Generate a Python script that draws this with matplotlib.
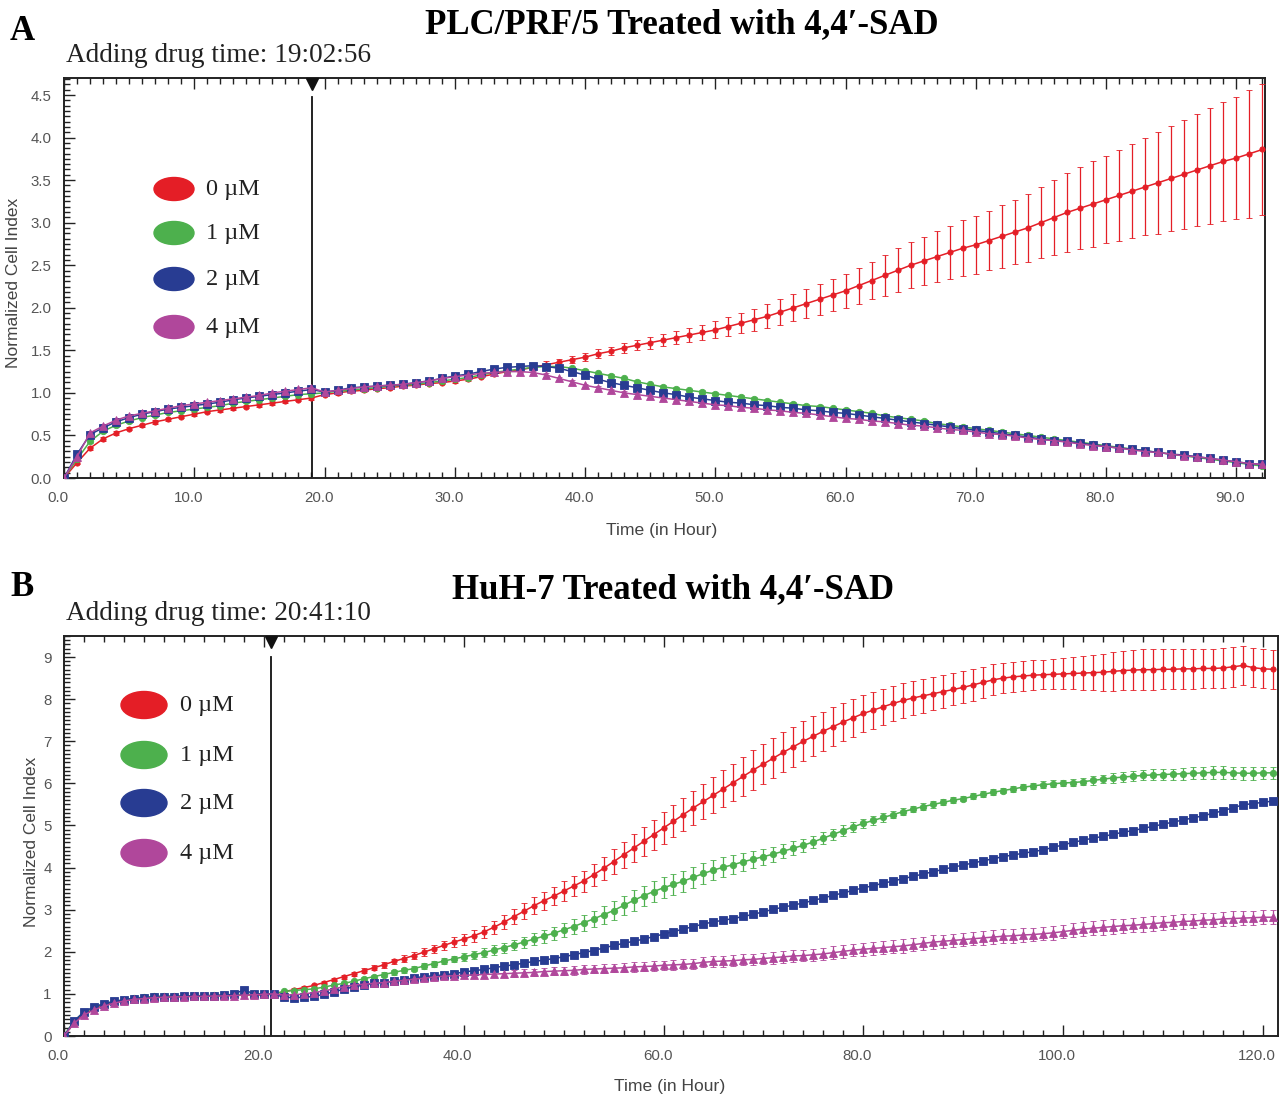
import matplotlib
matplotlib.use("Agg")
import matplotlib.pyplot as plt
from matplotlib.patches import Ellipse
from matplotlib.ticker import MultipleLocator, FormatStrFormatter
from matplotlib.transforms import ScaledTranslation

# ---------------- DATA ----------------
conc_labels = ["0 µM", "1 µM", "2 µM", "4 µM"]
colors = ["#E41E26", "#4DB04D", "#283C92", "#B0479B"]
markers = ["o", "o", "s", "^"]

# Panel A: PLC/PRF/5
title_A = "PLC/PRF/5 Treated with 4,4′-SAD"
drug_label_A = "Adding drug time: 19:02:56"
drug_time_A = 19.05
hours_A = list(range(0, 93))
red_A = ([0.00, 0.18, 0.35, 0.46, 0.53, 0.58, 0.62, 0.66, 0.69, 0.72, 0.75, 0.78, 0.80, 0.82, 0.84, 0.86, 0.88, 0.90, 0.92, 0.94]
         + [0.98, 1.00, 1.02, 1.03, 1.05, 1.06, 1.08, 1.09, 1.11, 1.12, 1.14, 1.16, 1.19, 1.22, 1.25]
         + [1.27, 1.30, 1.33, 1.36, 1.39, 1.42, 1.46, 1.49, 1.53, 1.56,
            1.59, 1.62, 1.65, 1.68, 1.71, 1.74, 1.78, 1.82, 1.86, 1.90,
            1.95, 2.00, 2.05, 2.10, 2.15, 2.20, 2.26, 2.32, 2.38, 2.44,
            2.50, 2.55, 2.60, 2.65, 2.70, 2.74, 2.79, 2.84, 2.89, 2.94,
            3.00, 3.06, 3.12, 3.17, 3.22, 3.27, 3.32, 3.37, 3.42, 3.47,
            3.52, 3.57, 3.62, 3.67, 3.72, 3.76, 3.81, 3.86])
green_A = ([0.00, 0.22, 0.43, 0.55, 0.62, 0.67, 0.71, 0.74, 0.77, 0.79, 0.81, 0.83, 0.85, 0.88, 0.90, 0.92, 0.94, 0.96, 0.98, 0.99]
           + [1.00, 1.02, 1.03, 1.05, 1.06, 1.08, 1.09, 1.10, 1.12, 1.14, 1.16, 1.18, 1.21, 1.24, 1.26]
           + [1.28, 1.30, 1.31, 1.31, 1.29, 1.26, 1.23, 1.20, 1.17, 1.13, 1.10, 1.07, 1.05, 1.03, 1.01, 0.99]
           + [0.97, 0.95, 0.93, 0.91, 0.89, 0.87, 0.85, 0.84, 0.82]
           + [0.80, 0.78, 0.76, 0.73, 0.71, 0.69, 0.67, 0.64, 0.62, 0.60, 0.58, 0.56, 0.54, 0.52, 0.50, 0.48, 0.46,
              0.44, 0.42, 0.40, 0.38, 0.36, 0.34, 0.32, 0.30, 0.28, 0.26, 0.24, 0.22, 0.20, 0.18, 0.16, 0.14])
blue_A = ([0.00, 0.28, 0.51, 0.59, 0.66, 0.71, 0.75, 0.78, 0.81, 0.83, 0.85, 0.87, 0.89, 0.92, 0.94, 0.96, 0.98, 1.00, 1.02, 1.04]
          + [1.01, 1.03, 1.06, 1.07, 1.08, 1.09, 1.10, 1.12, 1.14, 1.17, 1.20, 1.22, 1.25, 1.28, 1.30]
          + [1.31, 1.32, 1.31, 1.29, 1.25, 1.21, 1.16, 1.12, 1.09, 1.06, 1.03, 1.00, 0.98, 0.95, 0.93, 0.91]
          + [0.89, 0.88, 0.86, 0.85, 0.83, 0.82, 0.80, 0.79, 0.77]
          + [0.76, 0.74, 0.72, 0.70, 0.68, 0.66, 0.64, 0.62, 0.60, 0.58, 0.56, 0.54, 0.52, 0.50, 0.48, 0.46, 0.44,
             0.43, 0.41, 0.39, 0.37, 0.35, 0.34, 0.32, 0.30, 0.28, 0.27, 0.25, 0.23, 0.21, 0.19, 0.17, 0.16])
magenta_A = ([0.00, 0.25, 0.53, 0.61, 0.68, 0.73, 0.76, 0.79, 0.82, 0.85, 0.87, 0.89, 0.91, 0.93, 0.95, 0.97, 1.00, 1.02, 1.04, 1.06]
             + [1.01, 1.03, 1.05, 1.07, 1.08, 1.09, 1.10, 1.12, 1.14, 1.17, 1.19, 1.21, 1.23, 1.24, 1.25]
             + [1.25, 1.24, 1.21, 1.17, 1.13, 1.09, 1.06, 1.03, 1.00, 0.98, 0.96, 0.94, 0.92, 0.90, 0.88, 0.86]
             + [0.85, 0.83, 0.82, 0.80, 0.79, 0.77, 0.76, 0.74, 0.72]
             + [0.70, 0.69, 0.67, 0.66, 0.64, 0.62, 0.61, 0.59, 0.57, 0.56, 0.54, 0.52, 0.51, 0.49, 0.47, 0.45, 0.44,
                0.42, 0.40, 0.38, 0.37, 0.35, 0.33, 0.31, 0.30, 0.28, 0.26, 0.25, 0.23, 0.21, 0.19, 0.17, 0.16])
red_err_A = ([0.02] * 35
             + [0.03, 0.03, 0.04, 0.04, 0.04, 0.05, 0.05, 0.05, 0.06, 0.06,
                0.07, 0.07, 0.08, 0.08, 0.09, 0.10, 0.11, 0.12, 0.13, 0.14,
                0.15, 0.16, 0.17, 0.18, 0.19, 0.20, 0.21, 0.22, 0.24, 0.26,
                0.27, 0.28, 0.30, 0.31, 0.33, 0.34, 0.35, 0.37, 0.38, 0.40,
                0.42, 0.44, 0.46, 0.48, 0.50, 0.51, 0.53, 0.55, 0.57, 0.60,
                0.62, 0.64, 0.66, 0.68, 0.70, 0.72, 0.75, 0.77])
green_err_A = [0.02] * 93
blue_err_A = [0.02] * 93
magenta_err_A = [0.02] * 93

# Panel B: HuH-7
title_B = "HuH-7 Treated with 4,4′-SAD"
drug_label_B = "Adding drug time: 20:41:10"
drug_time_B = 20.69
hours_B = list(range(0, 122))
red_B = ([0.00, 0.32, 0.52, 0.64, 0.73, 0.79, 0.84, 0.88, 0.90, 0.92, 0.93, 0.94, 0.94, 0.95, 0.95, 0.96, 0.96, 0.97, 0.97, 0.98, 0.97]
         + [1.00, 1.05, 1.10, 1.15, 1.20, 1.27, 1.34, 1.41, 1.48, 1.55]
         + [1.62, 1.69, 1.77, 1.84, 1.91, 1.99, 2.07, 2.15, 2.23, 2.30]
         + [2.38, 2.47, 2.58, 2.70, 2.83, 2.96, 3.09, 3.21, 3.32, 3.44]
         + [3.56, 3.68, 3.83, 3.98, 4.14, 4.30, 4.46, 4.62, 4.78, 4.94]
         + [5.10, 5.26, 5.42, 5.57, 5.72, 5.87, 6.02, 6.17, 6.32, 6.46]
         + [6.60, 6.74, 6.87, 7.00, 7.12, 7.24, 7.35, 7.46, 7.56, 7.66]
         + [7.74, 7.82, 7.90, 7.97, 8.03, 8.08, 8.13, 8.18, 8.23, 8.28]
         + [8.34, 8.40, 8.46, 8.50, 8.53, 8.55, 8.57, 8.58, 8.59, 8.60]
         + [8.61, 8.62, 8.63, 8.64, 8.66, 8.68, 8.69, 8.70, 8.70, 8.71]
         + [8.71, 8.72, 8.72, 8.73, 8.73, 8.74, 8.77, 8.80, 8.75, 8.72, 8.71])
green_B = ([0.00, 0.36, 0.56, 0.67, 0.76, 0.82, 0.86, 0.90, 0.92, 0.94, 0.95, 0.95, 0.95, 0.96, 0.96, 0.97, 0.97, 0.98, 0.99, 0.99, 1.00]
           + [1.00, 1.06, 1.08, 1.10, 1.12, 1.16, 1.21, 1.25, 1.30, 1.36]
           + [1.41, 1.46, 1.51, 1.56, 1.60, 1.66, 1.72, 1.78, 1.83, 1.88]
           + [1.93, 1.98, 2.04, 2.10, 2.16, 2.23, 2.30, 2.37, 2.44, 2.52]
           + [2.60, 2.69, 2.78, 2.88, 2.98, 3.10, 3.22, 3.33, 3.43, 3.52]
           + [3.60, 3.68, 3.77, 3.86, 3.94, 4.01, 4.07, 4.14, 4.20, 4.26]
           + [4.32, 4.39, 4.46, 4.53, 4.61, 4.70, 4.79, 4.88, 4.97, 5.05]
           + [5.12, 5.19, 5.26, 5.33, 5.39, 5.45, 5.50, 5.55, 5.60, 5.64]
           + [5.69, 5.74, 5.79, 5.83, 5.87, 5.91, 5.94, 5.97, 5.99, 6.01]
           + [6.02, 6.04, 6.07, 6.10, 6.13, 6.15, 6.17, 6.19, 6.20, 6.21]
           + [6.22, 6.23, 6.24, 6.25, 6.26, 6.26, 6.25, 6.24, 6.24, 6.25, 6.25])
blue_B = ([0.00, 0.35, 0.58, 0.69, 0.77, 0.82, 0.86, 0.89, 0.91, 0.92, 0.93, 0.93, 0.94, 0.95, 0.95, 0.96, 0.97, 0.99, 1.10, 1.00, 1.00]
          + [1.00, 0.92, 0.91, 0.92, 0.94, 0.99, 1.05, 1.11, 1.17, 1.21]
          + [1.25, 1.27, 1.30, 1.34, 1.38, 1.41, 1.43, 1.45, 1.48, 1.52]
          + [1.55, 1.58, 1.62, 1.66, 1.69, 1.73, 1.77, 1.80, 1.84, 1.88]
          + [1.93, 1.98, 2.03, 2.09, 2.15, 2.20, 2.25, 2.30, 2.36, 2.42]
          + [2.48, 2.54, 2.60, 2.66, 2.71, 2.75, 2.79, 2.84, 2.89, 2.95]
          + [3.01, 3.06, 3.11, 3.16, 3.22, 3.28, 3.34, 3.40, 3.46, 3.52]
          + [3.57, 3.63, 3.68, 3.74, 3.79, 3.85, 3.90, 3.96, 4.01, 4.06]
          + [4.11, 4.16, 4.21, 4.26, 4.30, 4.34, 4.38, 4.42, 4.48, 4.54]
          + [4.60, 4.65, 4.70, 4.74, 4.79, 4.84, 4.88, 4.93, 4.98, 5.03]
          + [5.08, 5.13, 5.18, 5.23, 5.29, 5.35, 5.42, 5.49, 5.52, 5.55, 5.58])
magenta_B = ([0.00, 0.30, 0.50, 0.62, 0.71, 0.78, 0.83, 0.87, 0.89, 0.91, 0.92, 0.93, 0.93, 0.94, 0.94, 0.95, 0.95, 0.96, 0.97, 0.98, 0.99]
             + [1.00, 0.97, 0.98, 1.00, 1.03, 1.07, 1.12, 1.17, 1.21, 1.23]
             + [1.25, 1.27, 1.30, 1.32, 1.35, 1.37, 1.40, 1.42, 1.43, 1.44]
             + [1.45, 1.46, 1.47, 1.48, 1.49, 1.50, 1.51, 1.53, 1.54, 1.55]
             + [1.56, 1.58, 1.59, 1.60, 1.61, 1.62, 1.64, 1.65, 1.66, 1.68]
             + [1.69, 1.70, 1.72, 1.75, 1.77, 1.78, 1.79, 1.81, 1.82, 1.84]
             + [1.86, 1.88, 1.90, 1.91, 1.93, 1.95, 1.98, 2.01, 2.04, 2.06]
             + [2.08, 2.10, 2.12, 2.14, 2.17, 2.20, 2.23, 2.25, 2.27, 2.29]
             + [2.31, 2.33, 2.35, 2.37, 2.38, 2.40, 2.41, 2.43, 2.45, 2.48]
             + [2.51, 2.54, 2.56, 2.58, 2.60, 2.62, 2.63, 2.65, 2.67, 2.69]
             + [2.70, 2.72, 2.73, 2.75, 2.76, 2.78, 2.79, 2.80, 2.81, 2.82, 2.82])
red_err_B = ([0.03] * 26
             + [0.04, 0.04, 0.05, 0.05, 0.06]
             + [0.06, 0.07, 0.07, 0.08, 0.08, 0.09, 0.10, 0.11, 0.12, 0.13]
             + [0.14, 0.15, 0.16, 0.17, 0.18, 0.19, 0.20, 0.21, 0.22, 0.23]
             + [0.24, 0.25, 0.26, 0.28, 0.30, 0.31, 0.33, 0.34, 0.36, 0.37]
             + [0.38, 0.40, 0.41, 0.42, 0.43, 0.44, 0.45, 0.46, 0.47, 0.47]
             + [0.48, 0.48, 0.48, 0.47, 0.47, 0.46, 0.46, 0.45, 0.45, 0.44]
             + [0.44, 0.43, 0.42, 0.41, 0.40, 0.40, 0.39, 0.39, 0.38, 0.38]
             + [0.38, 0.37, 0.37, 0.36, 0.36, 0.35, 0.35, 0.35, 0.36, 0.37]
             + [0.38, 0.40, 0.42, 0.44, 0.46, 0.47, 0.48, 0.48, 0.48, 0.48]
             + [0.48, 0.48, 0.47, 0.47, 0.47, 0.47, 0.47, 0.47, 0.46, 0.46, 0.46])
green_err_B = ([0.02] * 28
               + [0.03, 0.03, 0.04, 0.04, 0.05, 0.05, 0.06, 0.06, 0.07, 0.07, 0.08, 0.08, 0.09]
               + [0.10, 0.10, 0.11, 0.12, 0.12, 0.13, 0.14, 0.15, 0.16, 0.17]
               + [0.18, 0.19, 0.20, 0.21, 0.22, 0.23, 0.24, 0.24, 0.25, 0.25]
               + [0.25, 0.25, 0.25, 0.24, 0.24, 0.23, 0.22, 0.21, 0.20, 0.19]
               + [0.18, 0.17, 0.16, 0.15, 0.15, 0.14, 0.13, 0.12, 0.12, 0.11]
               + [0.10, 0.10, 0.09, 0.09, 0.08, 0.08, 0.08, 0.07, 0.07, 0.07]
               + [0.07, 0.07, 0.07, 0.07, 0.07, 0.07, 0.07, 0.08, 0.08, 0.08]
               + [0.09, 0.09, 0.10, 0.10, 0.11, 0.11, 0.12, 0.12, 0.13, 0.13]
               + [0.13, 0.14, 0.14, 0.14, 0.15, 0.15, 0.15, 0.15, 0.15, 0.15, 0.15])
blue_err_B = [0.03] * 122
magenta_err_B = ([0.02] * 30
                 + [0.03, 0.03, 0.04, 0.04, 0.05, 0.05, 0.05, 0.06, 0.06, 0.06, 0.07]
                 + [0.07, 0.07, 0.08, 0.08, 0.08, 0.08, 0.09, 0.09, 0.09, 0.09]
                 + [0.10, 0.10, 0.10, 0.10, 0.10, 0.11, 0.11, 0.11, 0.11, 0.11]
                 + [0.12, 0.12, 0.12, 0.12, 0.12, 0.13, 0.13, 0.13, 0.13, 0.13]
                 + [0.14, 0.14, 0.14, 0.14, 0.14, 0.15, 0.15, 0.15, 0.15, 0.15]
                 + [0.16] * 10
                 + [0.16] * 10
                 + [0.17] * 10
                 + [0.17] * 11)

x_label = "Time (in Hour)"
y_label = "Normalized Cell Index"

# ---------------- FIGURE ----------------
W, H = 1282, 1098
fig = plt.figure(figsize=(W / 100, H / 100), dpi=100)
SERIF = ["Liberation Serif", "DejaVu Serif"]
SANS = ["Liberation Sans", "DejaVu Sans"]


def fx(x):
    return x / W


def fy(y):
    return 1 - y / H


axA = fig.add_axes([fx(64), fy(478), (1265 - 64) / W, 400 / H])
axB = fig.add_axes([fx(64), fy(1036), (1278 - 64) / W, 400 / H])

MS = {"o": 4.6, "s": 5.2, "^": 5.8}


def draw_series(ax, hours, ys, errs):
    for i, (y, e, c, m) in enumerate(zip(ys, errs, colors, markers)):
        ms = 3.8 if i == 0 else MS[m]
        ax.errorbar(hours, y, yerr=e, fmt=m + "-", color=c, ms=ms, lw=1.1,
                    elinewidth=0.9, capsize=2.4, capthick=0.9,
                    markeredgewidth=0.6, zorder=3)


def style_axis(ax, xmax, ymax, xmaj, xmin_, ymaj, yminor, yfmt, drug, line_top):
    ax.set_xlim(0, xmax)
    ax.set_ylim(0, ymax)
    ax.xaxis.set_major_locator(MultipleLocator(xmaj))
    ax.xaxis.set_minor_locator(MultipleLocator(xmin_))
    ax.yaxis.set_major_locator(MultipleLocator(ymaj))
    ax.yaxis.set_minor_locator(MultipleLocator(yminor))
    ax.xaxis.set_major_formatter(FormatStrFormatter("%.1f"))
    ax.yaxis.set_major_formatter(FormatStrFormatter(yfmt))
    ax.tick_params(axis="x", which="both", direction="in", top=True, bottom=True,
                   color="#222", width=1.0)
    ax.tick_params(axis="x", which="major", length=8, pad=9, labelsize=10.8,
                   labelcolor="#555")
    ax.tick_params(axis="x", which="minor", length=4)
    ax.tick_params(axis="y", which="both", direction="in", left=True, right=False,
                   color="#222", width=1.0)
    ax.tick_params(axis="y", which="major", length=8, pad=9, labelsize=10.8,
                   labelcolor="#555")
    ax.tick_params(axis="y", which="minor", length=4)
    shift = ScaledTranslation(-6 / 100, 0, fig.dpi_scale_trans)
    for lab in ax.get_xticklabels():
        lab.set_family(SANS)
        lab.set_transform(lab.get_transform() + shift)
    for lab in ax.get_yticklabels():
        lab.set_family(SANS)
    for s in ax.spines.values():
        s.set_color("#222")
        s.set_linewidth(1.4)
    ax.axvline(drug, ymin=0, ymax=line_top, color="#111", lw=1.3, zorder=2)
    ax.plot([drug], [0.985], marker="v", ms=8, color="#111",
            transform=ax.get_xaxis_transform(), clip_on=False, zorder=5)


draw_series(axA, hours_A, [red_A, green_A, blue_A, magenta_A],
            [red_err_A, green_err_A, blue_err_A, magenta_err_A])
style_axis(axA, 92.2, 4.7, 10, 1, 0.5, 0.0625, "%.1f", drug_time_A, 0.953)

draw_series(axB, hours_B, [red_B, green_B, blue_B, magenta_B],
            [red_err_B, green_err_B, blue_err_B, magenta_err_B])
style_axis(axB, 121.5, 9.5, 20, 2, 1, 0.1, "%d", drug_time_B, 0.947)

# ---------------- TEXT ----------------
fig.text(fx(22), fy(32), "A", family=SERIF, weight="bold", fontsize=25,
         ha="center", va="center")
fig.text(fx(682), fy(25), title_A, family=SERIF, weight="bold", fontsize=25,
         ha="center", va="center")
fig.text(fx(66), fy(55), drug_label_A, family=SERIF, fontsize=19.6,
         ha="left", va="center", color="#222")
fig.text(fx(22), fy(588), "B", family=SERIF, weight="bold", fontsize=25,
         ha="center", va="center")
fig.text(fx(673), fy(590), title_B, family=SERIF, weight="bold", fontsize=25,
         ha="center", va="center")
fig.text(fx(66), fy(614), drug_label_B, family=SERIF, fontsize=19.6,
         ha="left", va="center", color="#222")

fig.text(fx(14), fy(283), y_label, family=SANS, fontsize=12.5, rotation=90,
         ha="center", va="center", color="#444")
fig.text(fx(32), fy(842), y_label, family=SANS, fontsize=12.5, rotation=90,
         ha="center", va="center", color="#444")
fig.text(fx(662), fy(530), x_label, family=SANS, fontsize=12.6,
         ha="center", va="center", color="#444")
fig.text(fx(670), fy(1087), x_label, family=SANS, fontsize=12.6,
         ha="center", va="center", color="#444")

# ---------------- LEGENDS ----------------
legA_y = [189, 233, 279, 327]
for yy, c, lab in zip(legA_y, colors, conc_labels):
    fig.add_artist(Ellipse((fx(174), fy(yy)), 40 / W, 23 / H,
                           transform=fig.transFigure, color=c))
    fig.text(fx(206), fy(yy), lab, family=SERIF, fontsize=17.5,
             ha="left", va="center", color="#222")

legB_y = [705, 755, 803, 853]
for yy, c, lab in zip(legB_y, colors, conc_labels):
    fig.add_artist(Ellipse((fx(144), fy(yy)), 46 / W, 27 / H,
                           transform=fig.transFigure, color=c))
    fig.text(fx(180), fy(yy), lab, family=SERIF, fontsize=17.5,
             ha="left", va="center", color="#222")

fig.savefig("out.png", dpi=100, facecolor="white")
